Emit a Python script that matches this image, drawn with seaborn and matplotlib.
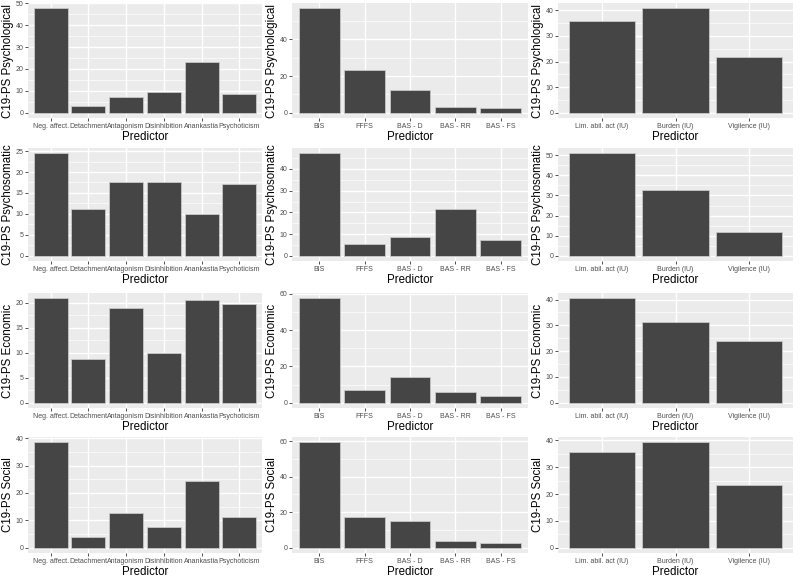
import pandas as pd
import seaborn as sns
import matplotlib.pyplot as plt
from matplotlib.ticker import MultipleLocator, AutoMinorLocator

# Predictor groups
pid_labels = ["Neg. affect.", "Detachment", "Antagonism", "Disinhibition", "Anankastia", "Psychoticism"]
rst_labels = ["BIS", "FFFS", "BAS - D", "BAS - RR", "BAS - FS"]
iu_labels = ["Lim. abil. act (IU)", "Burden (IU)", "Vigilence (IU)"]

# Outcomes (rows)
outcomes = ["Psychological", "Psychosomatic", "Economic", "Social"]

# Relative importance values
pid_psychological = [47.7, 3.0, 7.0, 9.3, 23.0, 8.5]
pid_psychosomatic = [24.5, 11.1, 17.7, 17.6, 10.1, 17.2]
pid_economic = [20.9, 8.7, 19.0, 9.9, 20.6, 19.8]
pid_social = [38.5, 3.8, 12.6, 7.4, 24.4, 11.4]

rst_psychological = [57.0, 23.5, 12.3, 3.2, 2.5]
rst_psychosomatic = [47.3, 5.3, 8.9, 21.8, 7.3]
rst_economic = [57.6, 7.3, 14.4, 6.2, 3.8]
rst_social = [59.3, 17.0, 15.3, 3.9, 2.7]

iu_psychological = [36.0, 40.8, 21.8]
iu_psychosomatic = [51.0, 32.5, 12.0]
iu_economic = [40.5, 31.4, 24.0]
iu_social = [35.8, 39.3, 23.3]

# tick steps per panel
steps = [[10, 20, 10], [5, 10, 10], [5, 20, 10], [10, 20, 10]]

panels = [
    [(pid_labels, pid_psychological), (rst_labels, rst_psychological), (iu_labels, iu_psychological)],
    [(pid_labels, pid_psychosomatic), (rst_labels, rst_psychosomatic), (iu_labels, iu_psychosomatic)],
    [(pid_labels, pid_economic), (rst_labels, rst_economic), (iu_labels, iu_economic)],
    [(pid_labels, pid_social), (rst_labels, rst_social), (iu_labels, iu_social)],
]

plt.rcParams['font.family'] = ['Liberation Sans', 'DejaVu Sans']

W, H = 800, 576
fig = plt.figure(figsize=(8, 5.76), dpi=100)

col_lr = [(28, 262), (292, 528), (558, 793)]
row_tb = [(3, 118), (148, 261), (293, 408), (437, 553)]

for r, row in enumerate(panels):
    for c, (labels, values) in enumerate(row):
        l, rr = col_lr[c]
        t, b = row_tb[r]
        ax = fig.add_axes([l / W, 1 - b / H, (rr - l) / W, (b - t) / H])
        ax.set_facecolor("#EBEBEB")
        ax.set_axisbelow(True)
        df = pd.DataFrame({"Predictor": labels, "value": values})
        sns.barplot(data=df, x="Predictor", y="value", color="#454545",
                    saturation=1, width=0.9, edgecolor="#C8C8C8",
                    linewidth=0.6, ax=ax)
        vmax = max(values)
        ax.set_ylim(-0.05 * vmax, 1.05 * vmax)
        ax.set_xlim(-0.6, len(labels) - 1 + 0.6)
        ax.yaxis.set_major_locator(MultipleLocator(steps[r][c]))
        ax.yaxis.set_minor_locator(AutoMinorLocator(2))
        ax.grid(which="major", color="white", linewidth=1.0)
        ax.grid(which="minor", axis="y", color="white", linewidth=0.5)
        for s in ax.spines.values():
            s.set_visible(False)
        ax.tick_params(which="major", length=2.0, width=0.6, color="#333333",
                       labelsize=5.0, labelcolor="#4D4D4D", pad=1.5)
        ax.tick_params(which="minor", length=0)
        ax.set_xlabel("Predictor", fontsize=8.3, labelpad=0.5)
        ax.set_ylabel("C19-PS " + outcomes[r], fontsize=8.3, labelpad=1)

plt.savefig("out.png", dpi=100)
plt.close()
